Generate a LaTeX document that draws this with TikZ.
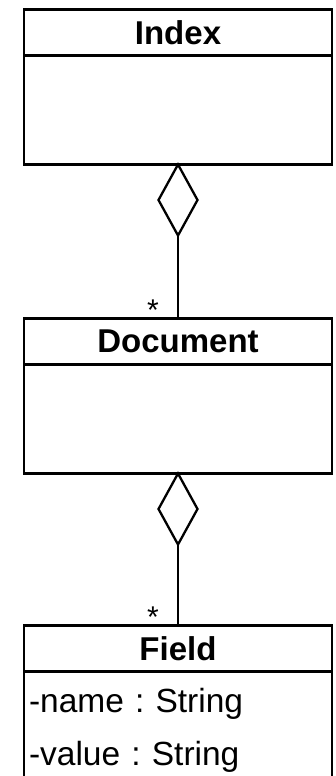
\documentclass[tikz,border=0pt]{standalone}
\usepackage{fontspec}
\setmainfont{Liberation Sans}
\usetikzlibrary{positioning,shapes.geometric}

\begin{document}
\begin{tikzpicture}[x=1pt, y=-1pt,
    classhead/.style={draw, line width=2.3pt, outer sep=0pt, inner sep=0pt,
      minimum width=308pt, minimum height=46pt,
      font=\fontsize{33}{36}\selectfont\bfseries},
    classbody/.style={draw, line width=2.3pt, outer sep=0pt, inner sep=0pt,
      minimum width=308pt, minimum height=109pt},
    aggr/.style={draw, diamond, line width=2.3pt, outer sep=0pt, inner sep=0pt,
      minimum width=39pt, minimum height=71pt},
    assoc/.style={line width=2.3pt},
    mult/.style={inner sep=0pt, font=\fontsize{30}{30}\selectfont}]
    \useasboundingbox (0,0) rectangle (335,776);
    \clip (0,0) rectangle (335,776);

    % Index class
    \node[classhead] (index) at (178,32.5) {Index};
    \node[classbody, below=0pt of index] (indexbody) {};

    % Index <>-- Document
    \node[aggr, below=0pt of indexbody] (indexagg) {};
    \node[classhead, below=83pt of indexagg] (doc) {Document};
    \node[classbody, below=0pt of doc] (docbody) {};
    \draw[assoc] (indexagg) -- (doc);
    \node[mult, anchor=base] (docmult) at ([xshift=-25pt, yshift=-2pt]doc.north) {*};

    % Document <>-- Field
    \node[aggr, below=0pt of docbody] (docagg) {};
    \node[classhead, below=81pt of docagg] (field) {Field};
    \draw[assoc] (docagg) -- (field);
    \node[mult, anchor=base] (fieldmult) at ([xshift=-25pt, yshift=-2pt]field.north) {*};

    % Field attributes
    \node[classbody, below=0pt of field, minimum height=0pt,
      inner xsep=5pt, inner ysep=17pt, text width=298pt, align=left,
      font=\fontsize{33.5}{53}\selectfont\frenchspacing] (fieldbody)
      {-name : String\\-value : String};
\end{tikzpicture}
\end{document}
